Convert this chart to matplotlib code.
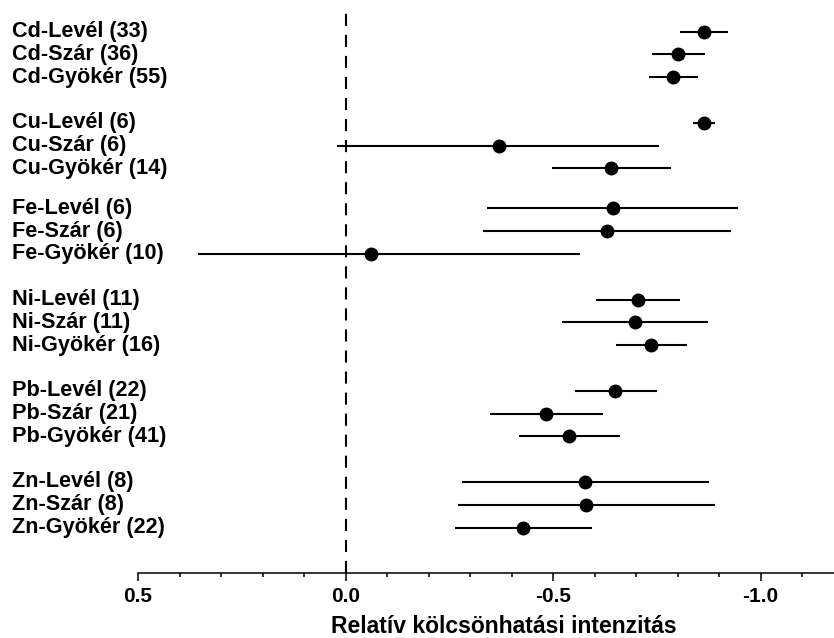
import matplotlib
matplotlib.use('Agg')
import matplotlib.pyplot as plt
from matplotlib.transforms import blended_transform_factory
from matplotlib.ticker import MultipleLocator

plt.rcParams['font.family'] = ['Liberation Sans', 'DejaVu Sans']

labels = ['Cd-Levél (33)', 'Cd-Szár (36)', 'Cd-Gyökér (55)',
          'Cu-Levél (6)', 'Cu-Szár (6)', 'Cu-Gyökér (14)',
          'Fe-Levél (6)', 'Fe-Szár (6)', 'Fe-Gyökér (10)',
          'Ni-Levél (11)', 'Ni-Szár (11)', 'Ni-Gyökér (16)',
          'Pb-Levél (22)', 'Pb-Szár (21)', 'Pb-Gyökér (41)',
          'Zn-Levél (8)', 'Zn-Szár (8)', 'Zn-Gyökér (22)']
means = [-0.863, -0.801, -0.789,
         -0.863, -0.369, -0.640,
         -0.645, -0.630, -0.061,
         -0.705, -0.697, -0.737,
         -0.650, -0.483, -0.539,
         -0.578, -0.579, -0.427]
ci_low = [-0.806, -0.738, -0.731,
          -0.838, 0.020, -0.498,
          -0.341, -0.332, 0.356,
          -0.604, -0.521, -0.651,
          -0.552, -0.347, -0.418,
          -0.281, -0.272, -0.263]
ci_high = [-0.922, -0.865, -0.849,
           -0.891, -0.755, -0.784,
           -0.946, -0.928, -0.566,
           -0.807, -0.873, -0.823,
           -0.750, -0.620, -0.662,
           -0.875, -0.890, -0.593]

# row layout: 3 rows per metal, gap between groups
group_gaps = [2, 1.75, 2, 2, 2]
rows = []
y = 0
for g in range(6):
    if g > 0:
        y += group_gaps[g - 1] - 1
    for k in range(3):
        rows.append(y)
        y += 1

fig = plt.figure(figsize=(8.34, 6.38), dpi=100)
ax = fig.add_axes([138 / 834, 1 - 572.7 / 638, 1 - 138 / 834, (572.7 - 12) / 638])

ax.hlines(rows, ci_low, ci_high, color='black', linewidth=1.5)
ax.plot(means, rows, 'o', color='black', markersize=9)
ax.axvline(0, color='black', linewidth=1.5, linestyle=(0, (5.8, 4.3)))

ax.set_xlim(0.5, -1.177)
ax.set_ylim(23.73, -0.864)

for s in ['top', 'right', 'left']:
    ax.spines[s].set_visible(False)
ax.spines['bottom'].set_linewidth(1.1)
ax.spines['bottom'].set_bounds(0.5, -1.177)

ax.set_yticks([])
ax.set_xticks([0.5, 0.0, -0.5, -1.0])
ax.set_xticklabels(['0.5', '0.0', '-0.5', '-1.0'], fontsize=15, fontweight='bold')
ax.xaxis.set_minor_locator(MultipleLocator(0.1))
ax.tick_params(axis='x', which='major', length=5.5, width=1.1, pad=5)
ax.tick_params(axis='x', which='minor', length=3, width=1.1)

trans = blended_transform_factory(fig.transFigure, ax.transData)
for lab, r in zip(labels, rows):
    ax.text(12 / 834, r, lab, transform=trans, ha='left', va='center',
            fontsize=15.6, fontweight='bold', clip_on=False)

fig.text(504 / 834, 1 - 615 / 638, 'Relatív kölcsönhatási intenzitás',
         ha='center', va='top', fontsize=16.5, fontweight='bold')

fig.savefig('out.png', dpi=100)
